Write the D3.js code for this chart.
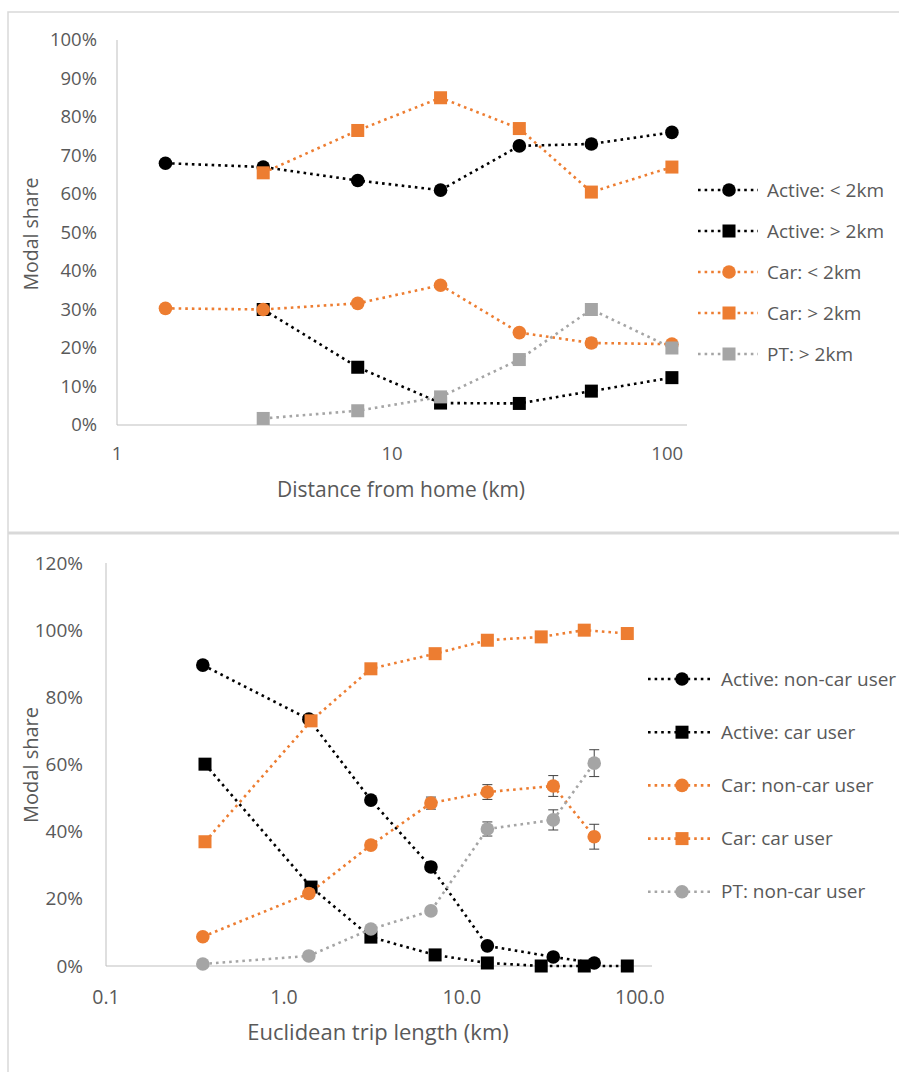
<!DOCTYPE html>
<html><head><meta charset="utf-8">
<script src="https://cdn.jsdelivr.net/npm/d3@7"></script>
<style>
body{margin:0;background:#fff;}
svg{display:block;font-family:"Open Sans",sans-serif;}
</style></head>
<body>
<svg id="c" width="899" height="1072"></svg>
<script>
// ---------- Top chart data ----------
const topDist = [1.5, 3.4, 7.5, 15, 29, 53, 104];
const topDist2 = [3.4, 7.5, 15, 29, 53, 104];
const activeLt2 = [0.68, 0.67, 0.635, 0.61, 0.725, 0.73, 0.76];
const activeLt2Err = [0, 0, 0, 0, 0.005, 0.012, 0.01];
const activeGt2 = [0.30, 0.15, 0.057, 0.056, 0.088, 0.123];
const carLt2 = [0.303, 0.30, 0.316, 0.363, 0.24, 0.213, 0.21];
const carLt2Err = [0, 0, 0, 0, 0.006, 0.012, 0.006];
const carGt2 = [0.655, 0.765, 0.85, 0.77, 0.605, 0.67];
const carGt2Err = [0, 0, 0, 0, 0.012, 0.012];
const ptGt2 = [0.017, 0.037, 0.073, 0.17, 0.30, 0.20];
const topYTicks = [0, 0.1, 0.2, 0.3, 0.4, 0.5, 0.6, 0.7, 0.8, 0.9, 1.0];
const topXTicks = [1, 10, 100];

// ---------- Bottom chart data ----------
const tripC = [0.35, 1.38, 3.08, 6.7, 13.9, 32.6, 55.4];
const tripS = [0.36, 1.42, 3.08, 7.07, 13.9, 27.9, 48.7, 85];
const activeNonCar = [0.896, 0.735, 0.494, 0.295, 0.06, 0.027, 0.009];
const activeNonCarErr = [0, 0, 0.005, 0.012, 0.006, 0.005, 0.005];
const activeCar = [0.601, 0.235, 0.086, 0.033, 0.009, 0, 0, 0];
const carNonCar = [0.087, 0.216, 0.36, 0.485, 0.518, 0.536, 0.385];
const carNonCarErr = [0, 0, 0.005, 0.018, 0.022, 0.031, 0.037];
const carCar = [0.37, 0.73, 0.885, 0.93, 0.97, 0.98, 1.0, 0.99];
const ptNonCar = [0.006, 0.03, 0.11, 0.164, 0.408, 0.435, 0.604];
const ptNonCarErr = [0, 0, 0.005, 0.008, 0.021, 0.03, 0.04];
const botYTicks = [0, 0.2, 0.4, 0.6, 0.8, 1.0, 1.2];
const botXTicks = [0.1, 1, 10, 100];

const BLACK = "#000000", ORANGE = "#ED7D31", GRAY = "#A5A5A5";
const TXT = "#595959";

const svg = d3.select("#c");

// frame borders
svg.append("rect").attr("x", 8).attr("y", 12).attr("width", 900).attr("height", 1080)
  .attr("fill", "none").attr("stroke", "#d9d9d9").attr("stroke-width", 1.5);
svg.append("line").attr("x1", 8).attr("x2", 899).attr("y1", 533).attr("y2", 533)
  .attr("stroke", "#d9d9d9").attr("stroke-width", 3);

function drawChart(cfg) {
  const g = svg.append("g");
  const x = d3.scaleLog().domain(cfg.xDomain).range(cfg.xRange);
  const y = d3.scaleLinear().domain(cfg.yDomain).range(cfg.yRange);
  const fs = cfg.fs;

  // axes lines
  g.append("line").attr("x1", cfg.xRange[0]).attr("x2", cfg.xRange[0])
    .attr("y1", cfg.yRange[0]).attr("y2", cfg.yRange[1]).attr("stroke", "#bfbfbf").attr("stroke-width", 1);
  g.append("line").attr("x1", cfg.xRange[0]).attr("x2", cfg.xRange[1])
    .attr("y1", cfg.yRange[0]).attr("y2", cfg.yRange[0]).attr("stroke", "#bfbfbf").attr("stroke-width", 1);

  // y ticks
  g.selectAll(".yt").data(cfg.yTicks).enter().append("text")
    .attr("x", cfg.yLabelX).attr("y", d => y(d)).attr("dy", "0.35em")
    .attr("text-anchor", "end").attr("fill", TXT).attr("font-size", fs.yTick)
    .text(d => d3.format(".0%")(d));
  // x ticks
  g.selectAll(".xt").data(cfg.xTicks).enter().append("text")
    .attr("x", d => x(d)).attr("y", cfg.xLabelY)
    .attr("text-anchor", "middle").attr("fill", TXT).attr("font-size", fs.xTick)
    .text(cfg.xFmt);
  // titles
  g.append("text").attr("x", cfg.xTitle[0]).attr("y", cfg.xTitle[1]).attr("text-anchor", "middle")
    .attr("fill", TXT).attr("font-size", fs.xTitle).text(cfg.xTitleText);
  g.append("text").attr("transform", `translate(${cfg.yTitle[0]},${cfg.yTitle[1]}) rotate(-90)`)
    .attr("text-anchor", "middle").attr("dy", "0.35em")
    .attr("fill", TXT).attr("font-size", fs.yTitle).text("Modal share");

  const line = d3.line().x(d => x(d[0])).y(d => y(d[1]));

  cfg.series.forEach((s, si) => {
    const pts = s.xs.map((xv, i) => [xv, s.ys[i], s.err ? s.err[i] : 0]);
    const sg = g.append("g");
    sg.append("path").datum(pts).attr("d", line).attr("fill", "none")
      .attr("stroke", s.color).attr("stroke-width", 2.6).attr("stroke-dasharray", "2.6,4");
    // error bars
    pts.filter(p => p[2] > 0).forEach(p => {
      const cx = x(p[0]);
      const eg = sg.append("g").attr("stroke", "#404040").attr("stroke-width", 1);
      eg.append("line").attr("x1", cx).attr("x2", cx).attr("y1", y(p[1] - p[2])).attr("y2", y(p[1] + p[2]));
      [p[1] - p[2], p[1] + p[2]].forEach(v => eg.append("line").attr("x1", cx - 5).attr("x2", cx + 5)
        .attr("y1", y(v)).attr("y2", y(v)));
    });
    drawMarkers(sg, pts.map(p => [x(p[0]), y(p[1])]), s.shape, s.color);

    // legend
    const ly = cfg.legend.y0 + si * cfg.legend.dy;
    const lg = g.append("g");
    lg.append("line").attr("x1", cfg.legend.x1).attr("x2", cfg.legend.x2).attr("y1", ly).attr("y2", ly)
      .attr("stroke", s.color).attr("stroke-width", 2.6).attr("stroke-dasharray", "2.6,4");
    drawMarkers(lg, [[cfg.legend.mx, ly]], s.shape, s.color);
    lg.append("text").attr("x", cfg.legend.tx).attr("y", ly).attr("dy", "0.35em")
      .attr("fill", TXT).attr("font-size", fs.legend).text(s.name);
  });
}

function drawMarkers(sel, pts, shape, color) {
  if (shape === "circle") {
    sel.selectAll(null).data(pts).enter().append("circle")
      .attr("cx", d => d[0]).attr("cy", d => d[1]).attr("r", 6.8).attr("fill", color);
  } else {
    sel.selectAll(null).data(pts).enter().append("rect")
      .attr("x", d => d[0] - 6.5).attr("y", d => d[1] - 6.5).attr("width", 13).attr("height", 13).attr("fill", color);
  }
}

drawChart({
  xDomain: [1, 118], xRange: [117, 687],
  yDomain: [0, 1], yRange: [425, 40],
  yTicks: topYTicks, xTicks: topXTicks, xFmt: d => d3.format("d")(d),
  yLabelX: 97, xLabelY: 460,
  xTitle: [401, 497], xTitleText: "Distance from home (km)",
  yTitle: [31, 234],
  fs: { yTick: 18.5, xTick: 18.5, xTitle: 21, yTitle: 19.5, legend: 19 },
  legend: { y0: 190, dy: 41, x1: 698, x2: 758, mx: 729, tx: 767 },
  series: [
    { name: "Active: < 2km", xs: topDist, ys: activeLt2, err: activeLt2Err, shape: "circle", color: BLACK },
    { name: "Active: > 2km", xs: topDist2, ys: activeGt2, shape: "square", color: BLACK },
    { name: "Car: < 2km", xs: topDist, ys: carLt2, err: carLt2Err, shape: "circle", color: ORANGE },
    { name: "Car: > 2km", xs: topDist2, ys: carGt2, err: carGt2Err, shape: "square", color: ORANGE },
    { name: "PT: > 2km", xs: topDist2, ys: ptGt2, shape: "square", color: GRAY }
  ]
});

drawChart({
  xDomain: [0.1, 117], xRange: [106, 652],
  yDomain: [0, 1.2], yRange: [966, 563],
  yTicks: botYTicks, xTicks: botXTicks, xFmt: d => d3.format(".1f")(d),
  yLabelX: 83, xLabelY: 1004,
  xTitle: [378, 1040], xTitleText: "Euclidean trip length (km)",
  yTitle: [31, 765],
  fs: { yTick: 19, xTick: 19.5, xTitle: 22, yTitle: 20, legend: 19 },
  legend: { y0: 679, dy: 53.2, x1: 648, x2: 712, mx: 682, tx: 721 },
  series: [
    { name: "Active: non-car user", xs: tripC, ys: activeNonCar, err: activeNonCarErr, shape: "circle", color: BLACK },
    { name: "Active: car user", xs: tripS, ys: activeCar, shape: "square", color: BLACK },
    { name: "Car: non-car user", xs: tripC, ys: carNonCar, err: carNonCarErr, shape: "circle", color: ORANGE },
    { name: "Car: car user", xs: tripS, ys: carCar, shape: "square", color: ORANGE },
    { name: "PT: non-car user", xs: tripC, ys: ptNonCar, err: ptNonCarErr, shape: "circle", color: GRAY }
  ]
});
</script>
</body></html>
